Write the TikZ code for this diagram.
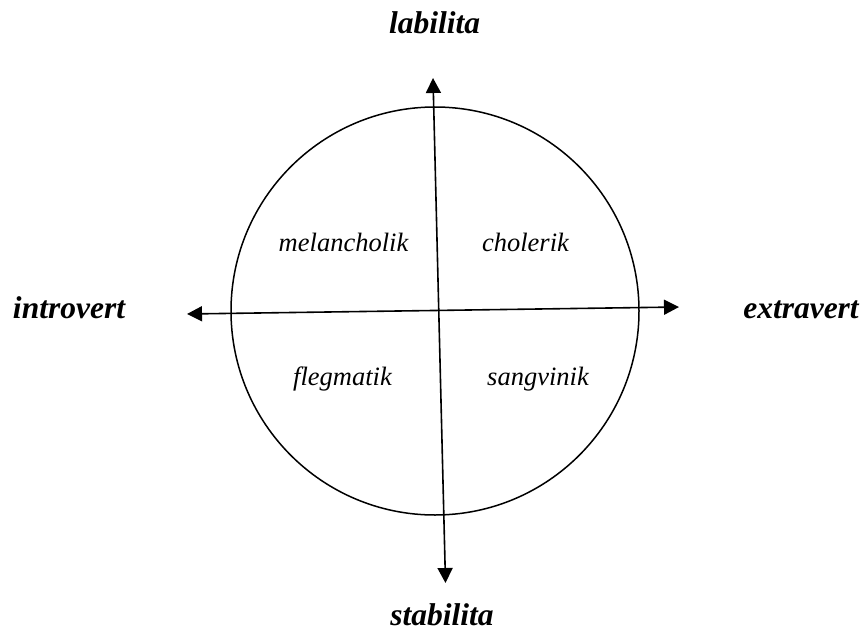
\documentclass[tikz,border=0pt]{standalone}
\usepackage{fontspec}
\setmainfont{Liberation Serif}
\usetikzlibrary{arrows.meta}
\begin{document}
\begin{tikzpicture}[x=1pt,y=-1pt,
  axislabel/.style={font=\fontsize{31.5}{36}\selectfont\bfseries\itshape, anchor=base, inner sep=0pt},
  typelabel/.style={font=\fontsize{26.5}{30}\selectfont\itshape, anchor=base, inner sep=0pt},
  axis/.style={line width=1.6pt, {Triangle[width=15pt,length=15pt]}-{Triangle[width=15pt,length=15pt]}},
  ring/.style={draw, circle, line width=1.5pt, minimum size=408pt, inner sep=0pt}]
\useasboundingbox (0,0) rectangle (862,637);
\node[ring] (c) at (435,311) {};
\coordinate (top) at (433,78);
\coordinate (bot) at (445.5,583);
\coordinate (lft) at (187,314);
\coordinate (rgt) at (679,307);
\draw[axis] (top) -- (bot);
\draw[axis] (lft) -- (rgt);
\node[axislabel] (lab) at (434.5,33) {labilita};
\node[axislabel] (stab) at (442,625) {stabilita};
\node[axislabel] (intro) at (69,318) {introvert};
\node[axislabel] (extra) at (801,318) {extravert};
\node[typelabel] (mel) at (343.5,251) {melancholik};
\node[typelabel] (chol) at (525.5,251) {cholerik};
\node[typelabel] (fleg) at (342.5,385) {flegmatik};
\node[typelabel] (sang) at (538,385) {sangvinik};
\end{tikzpicture}
\end{document}
